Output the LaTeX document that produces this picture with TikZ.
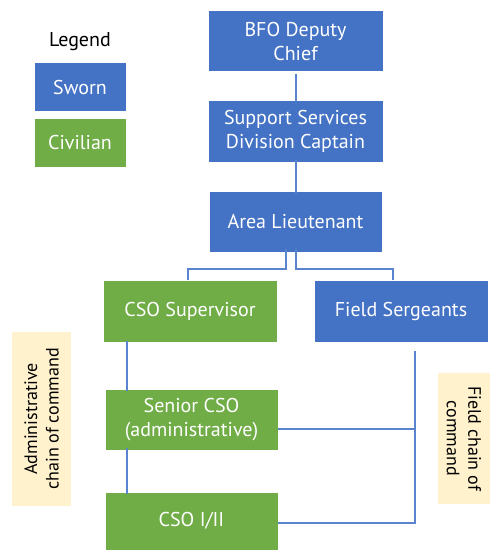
\documentclass[tikz,border=0pt]{standalone}
\usepackage{fontspec}
\setmainfont{PT Sans}
\definecolor{sworn}{HTML}{4472C4}
\definecolor{civil}{HTML}{70AD47}
\definecolor{note}{HTML}{FFF2CC}
\definecolor{link}{HTML}{5B84CF}
\begin{document}
\begin{tikzpicture}[x=1pt,y=-1pt,
  box/.style={draw=white, line width=0.6pt, text=white, align=center, inner sep=0pt,
    font=\fontsize{20}{24}\selectfont},
  swornbox/.style={box, fill=sworn},
  civilbox/.style={box, fill=civil},
  notebox/.style={fill=note, inner sep=0pt},
  notetext/.style={align=center, font=\fontsize{18}{21.5}\selectfont},
  conn/.style={draw=link, line width=1.3pt}]
\useasboundingbox (0,0) rectangle (490,550);
% legend
\node[font=\fontsize{20}{22}\selectfont] (legend) at (80,42) {Legend};
\node[swornbox, minimum width=92pt, minimum height=49pt] (lsworn) at (80,87) {Sworn};
\node[civilbox, minimum width=92pt, minimum height=49pt] (lcivil) at (80,142.5) {Civilian};
% organisation boxes
\node[swornbox, minimum width=175pt, minimum height=61pt] (bfo) at (295.5,41) {BFO Deputy\\Chief};
\node[swornbox, minimum width=175pt, minimum height=62pt] (ssd) at (295.5,131) {Support Services\\Division Captain};
\node[swornbox, minimum width=173pt, minimum height=61pt] (lt) at (295.5,221.5) {Area Lieutenant};
\node[civilbox, minimum width=174pt, minimum height=62pt] (sup) at (190,311) {CSO Supervisor};
\node[swornbox, minimum width=174pt, minimum height=62pt] (sgt) at (401,311) {Field Sergeants};
\node[civilbox, minimum width=173pt, minimum height=61pt] (snr) at (191.5,419.5) {Senior CSO\\(administrative)};
\node[civilbox, minimum width=173pt, minimum height=58pt] (cso) at (191.5,521) {CSO I/II};
% chain-of-command notes
\node[notebox, minimum width=59pt, minimum height=174pt] (adm) at (41.5,419) {};
\node[notetext, rotate=90] (admtxt) at (adm.center) {Administrative\\chain of command};
\node[notebox, minimum width=52pt, minimum height=131pt] (fld) at (464,438.5) {};
\node[notetext, rotate=-90] (fldtxt) at (fld.center) {Field chain of\\command};
% connectors
\coordinate (lsplit) at (286,269);
\coordinate (rsplit) at (296,269);
\coordinate (fieldbus) at (415,351);
\draw[conn] (bfo.south -| 296,0) ++(0,2) -- ([yshift=-2pt]ssd.north -| 296,0);
\draw[conn] ([yshift=2pt]ssd.south -| 296,0) -- ([yshift=-2pt]lt.north -| 296,0);
\draw[conn] ([yshift=3pt]lt.south -| lsplit) -- (lsplit) -| (sup.north -| 188,0);
\draw[conn] ([yshift=3pt]lt.south -| rsplit) -- (rsplit) -| (sgt.north -| 393,0);
\draw[conn] ([yshift=1pt]sup.south -| 127,0) -- ([yshift=-2pt]snr.north -| 127,0);
\draw[conn] ([yshift=2pt]snr.south -| 127,0) -- ([yshift=-2pt]cso.north -| 127,0);
\draw[conn] (fieldbus) |- (cso.east |- 0,523);
\draw[conn] (snr.east |- 0,429) -- (fieldbus |- 0,429);
\end{tikzpicture}
\end{document}
